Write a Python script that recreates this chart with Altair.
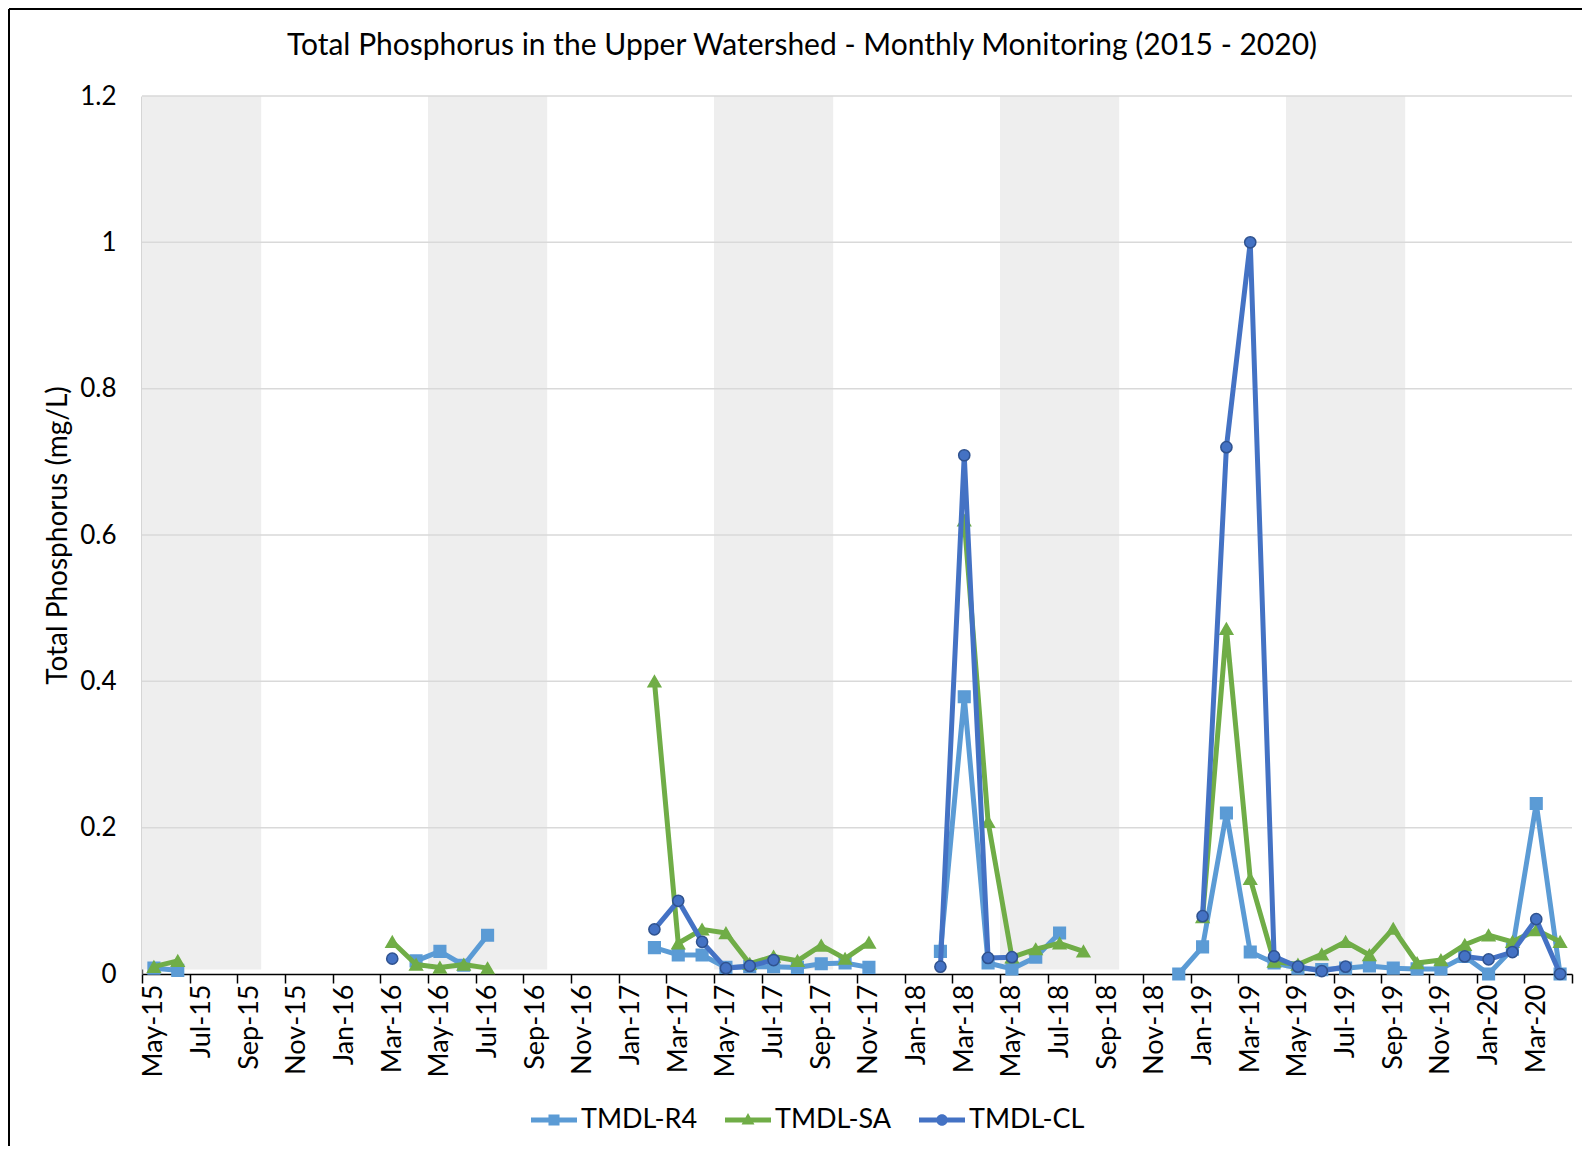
import json
import altair as alt
import pandas as pd

FONT = "Lato"

months = [
    "May-15", "Jun-15", "Jul-15", "Aug-15", "Sep-15", "Oct-15", "Nov-15", "Dec-15",
    "Jan-16", "Feb-16", "Mar-16", "Apr-16", "May-16", "Jun-16", "Jul-16", "Aug-16",
    "Sep-16", "Oct-16", "Nov-16", "Dec-16", "Jan-17", "Feb-17", "Mar-17", "Apr-17",
    "May-17", "Jun-17", "Jul-17", "Aug-17", "Sep-17", "Oct-17", "Nov-17", "Dec-17",
    "Jan-18", "Feb-18", "Mar-18", "Apr-18", "May-18", "Jun-18", "Jul-18", "Aug-18",
    "Sep-18", "Oct-18", "Nov-18", "Dec-18", "Jan-19", "Feb-19", "Mar-19", "Apr-19",
    "May-19", "Jun-19", "Jul-19", "Aug-19", "Sep-19", "Oct-19", "Nov-19", "Dec-19",
    "Jan-20", "Feb-20", "Mar-20", "Apr-20",
]

r4 = [
    0.008, 0.005, None, None, None, None, None, None, None, None,
    None, 0.018, 0.031, 0.012, 0.053, None, None, None, None, None,
    None, 0.036, 0.026, 0.026, 0.009, 0.010, 0.010, 0.009, 0.014, 0.015,
    0.009, None, None, 0.031, 0.379, 0.015, 0.007, 0.023, 0.056, None,
    None, None, None, 0.0, 0.037, 0.22, 0.030, 0.015, 0.008, 0.006,
    0.008, 0.011, 0.008, 0.007, 0.007, 0.024, 0.0, 0.034, 0.233, 0.0,
]

sa = [
    0.010, 0.018, None, None, None, None, None, None, None, None,
    0.044, 0.013, 0.009, 0.013, 0.008, None, None, None, None, None,
    None, 0.40, 0.042, 0.061, 0.056, 0.014, 0.024, 0.018, 0.039, 0.021,
    0.043, None, None, None, 0.62, 0.208, 0.023, 0.034, 0.042, 0.031,
    None, None, None, None, 0.078, 0.472, 0.13, 0.017, 0.013, 0.027,
    0.044, 0.026, 0.062, 0.015, 0.019, 0.040, 0.053, 0.044, 0.060, 0.044,
]

cl = [
    None, None, None, None, None, None, None, None, None, None,
    0.021, None, None, None, None, None, None, None, None, None,
    None, 0.061, 0.10, 0.044, 0.008, 0.011, 0.019, None, None, None,
    None, None, None, 0.010, 0.709, 0.022, 0.023, None, None, None,
    None, None, None, None, 0.079, 0.72, 1.0, 0.024, 0.010, 0.004,
    0.010, None, None, None, None, 0.024, 0.020, 0.030, 0.075, 0.0,
]

series_names = ["TMDL-R4", "TMDL-SA", "TMDL-CL"]
series_values = [r4, sa, cl]
series_colors = ["#5B9BD5", "#70AD47", "#4472C4"]
marker_shapes = ["square", "triangle-up", "circle"]
marker_sizes = [135, 160, 125]
marker_strokes = ["#5B9BD5", "#70AD47", "#2F528F"]

season_start = ["May-15", "May-16", "May-17", "May-18", "May-19"]
season_end = ["Sep-15", "Sep-16", "Sep-17", "Sep-18", "Sep-19"]

y_ticks = [0, 0.2, 0.4, 0.6, 0.8, 1.0, 1.2]

title_text = "Total Phosphorus in the Upper Watershed - Monthly Monitoring (2015 - 2020)"
y_title = "Total Phosphorus (mg/L)"

# ---- build tables ----
rows = []
for name, vals in zip(series_names, series_values):
    seg = 0
    prev = None
    for i, v in enumerate(vals):
        if v is None:
            prev = None
            continue
        if prev is None:
            seg += 1
        rows.append({"idx": i, "month": months[i], "series": name,
                     "value": v, "seg": f"{name}-{seg}"})
        prev = v
df = pd.DataFrame(rows)

bands = pd.DataFrame({
    "start": [months.index(s) - 0.5 for s in season_start],
    "end": [months.index(e) + 0.5 for e in season_end],
})
grid = pd.DataFrame({"y": y_ticks[1:]})
legend_df = pd.DataFrame({"series": series_names})
title_df = pd.DataFrame({"t": [title_text]})

W, H = 1430, 878
PAD_L, PAD_T = 134, 88
x_scale = alt.Scale(domain=[-0.5, len(months) - 0.5], nice=False, zero=False)
y_scale = alt.Scale(domain=[0, 1.2], nice=False)
color_scale = alt.Scale(domain=series_names, range=series_colors)

tick_vals = [i - 0.5 for i in range(0, len(months) + 1, 2)]
label_list = months[::2]
label_expr = f"({json.dumps(label_list)})[(datum.value + 0.5) / 2] || ''"

x_axis = alt.Axis(
    values=tick_vals, labelExpr=label_expr, labelAngle=270,
    labelOffset=W / len(months) / 2, tickSize=9, labelPadding=1,
    domainColor="#000000", domainWidth=1.5, tickColor="#000000", tickWidth=1.5,
    grid=False, title=None, labelFontSize=27, labelFont=FONT, labelColor="#000000",
    labelBound=False, labelOverlap=False, labelFlush=False,
)
y_axis = alt.Axis(
    values=y_ticks, format="~g", grid=False, domain=True, domainColor="#595959",
    domainWidth=1.5, ticks=False, labelPadding=26, labelFontSize=26, labelFont=FONT,
    labelColor="#000000", title=y_title, titleFont=FONT, titleFontSize=28,
    titleFontWeight="normal", titleColor="#000000", titleX=-84, titleY=H / 2,
    titleAngle=270, titleAlign="center", titleBaseline="middle",
)

line_part = "M-1,-0.11H1V0.11H-1Z "
legend_paths = [
    line_part + "M-0.24,-0.24H0.24V0.24H-0.24Z",
    line_part + "M0,-0.3L0.28,0.2H-0.28Z",
    line_part + "M-0.25,0A0.25,0.25 0 1,1 0.25,0A0.25,0.25 0 1,1 -0.25,0Z",
]
legend = alt.Legend(
    title=None, orient="none", legendX=389, legendY=1001, direction="horizontal",
    symbolSize=2116, labelFontSize=27, labelFont=FONT, labelColor="#000000",
    labelOffset=4, columnPadding=27, padding=0, symbolStrokeWidth=0,
    symbolOpacity=1,
)

band_layer = alt.Chart(bands).mark_rect(color="#EEEEEE").encode(
    x=alt.X("start:Q", scale=x_scale, axis=x_axis),
    x2="end:Q",
    y=alt.datum(1.2, scale=y_scale, axis=y_axis),
    y2=alt.datum(0.006),
)

grid_layer = alt.Chart(grid).mark_rule(color="#D9D9D9", strokeWidth=1.5).encode(
    y=alt.Y("y:Q", scale=y_scale),
)

frame_left = alt.Chart(grid).mark_rule(color="#000000", strokeWidth=2).encode(
    x=alt.value(1 - PAD_L), y=alt.value(1 - PAD_T), y2=alt.value(H + 300),
)
frame_top = alt.Chart(grid).mark_rule(color="#000000", strokeWidth=2).encode(
    x=alt.value(1 - PAD_L), x2=alt.value(W + 200), y=alt.value(1 - PAD_T),
)

title_layer = alt.Chart(title_df).mark_text(
    font=FONT, fontSize=30, color="#000000", align="center", baseline="middle",
).encode(x=alt.value(660), y=alt.value(-50), text="t:N")

# empty layer that only carries the legend (line + marker symbols)
legend_layer = alt.Chart(legend_df).transform_filter("false").mark_point(
    filled=True, opacity=1, size=2116, strokeWidth=0,
).encode(
    color=alt.Color("series:N", scale=color_scale, legend=legend),
    shape=alt.Shape("series:N", scale=alt.Scale(domain=series_names, range=legend_paths),
                    legend=legend),
)

layers = [band_layer, grid_layer]
for k, name in enumerate(series_names):
    sub = df[df["series"] == name]
    ln = alt.Chart(sub).mark_line(
        strokeWidth=5, strokeJoin="round", color=series_colors[k],
    ).encode(
        x=alt.X("idx:Q", scale=x_scale),
        y=alt.Y("value:Q", scale=y_scale),
        detail="seg:N",
    )
    pt = alt.Chart(sub).mark_point(
        filled=True, opacity=1, shape=marker_shapes[k], size=marker_sizes[k],
        fill=series_colors[k], stroke=marker_strokes[k], strokeWidth=1.5,
    ).encode(
        x=alt.X("idx:Q", scale=x_scale),
        y=alt.Y("value:Q", scale=y_scale),
    )
    layers += [ln, pt]
layers += [legend_layer, title_layer, frame_left, frame_top]

chart = alt.layer(*layers).properties(
    width=W, height=H,
    autosize=alt.AutoSizeParams(type="none"),
    padding={"left": PAD_L, "top": PAD_T, "right": 10, "bottom": 172},
    background="white",
).configure_view(strokeWidth=0)

chart.save("out.html", embed_options={"renderer": "svg", "actions": False})
